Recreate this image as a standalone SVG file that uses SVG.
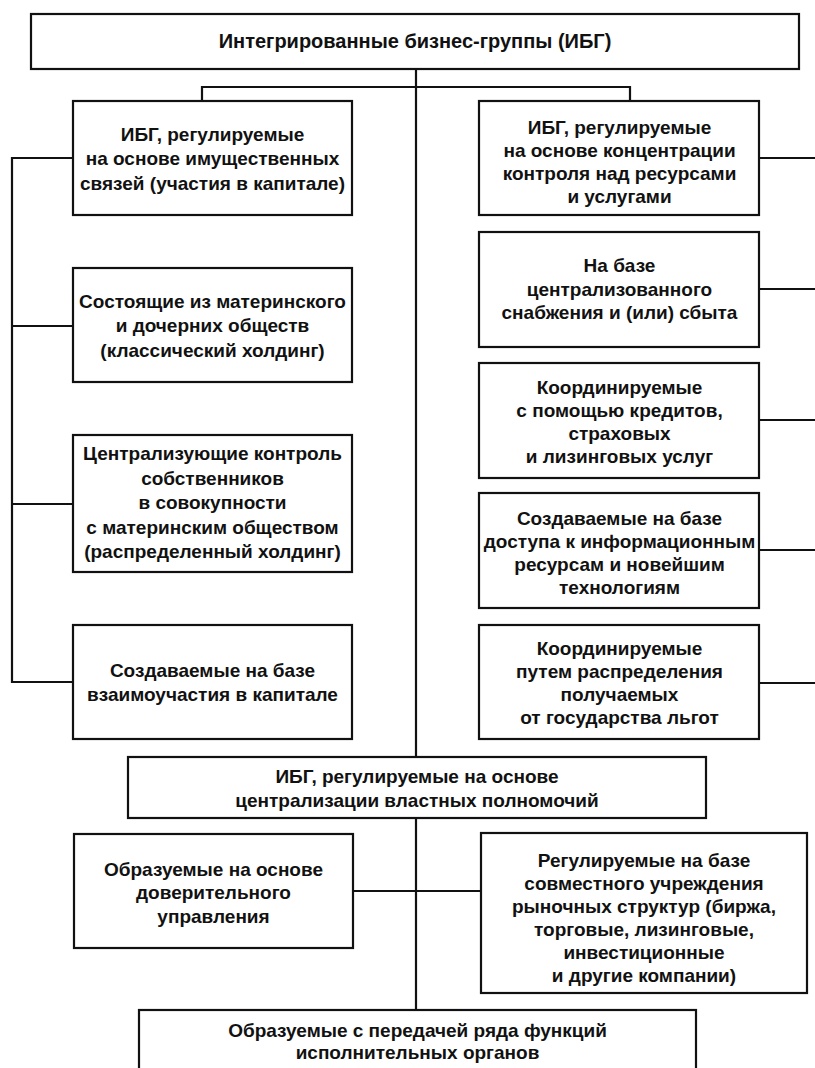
<svg xmlns="http://www.w3.org/2000/svg" width="815" height="1068" viewBox="0 0 815 1068">
<style>
.box{fill:#fff;stroke:#111;stroke-width:2.2}
.ln{fill:none;stroke:#111;stroke-width:2.2}
text{font-family:"Liberation Sans",Arial,sans-serif;font-weight:bold;font-size:19px;fill:#111;text-anchor:middle}
.title{font-size:20px}
.lg{font-size:19.6px}
</style>
<rect width="815" height="1068" fill="#fff"/>
<g id="connectors">
<path class="ln" d="M416 69V1010"/>
<path class="ln" d="M202 101V87H630V101"/>
<path class="ln" d="M73 158H12V682H73M12 326H73M12 504H73"/>
<path class="ln" d="M759 158H815M759 289H815M759 420H815M759 550H815M759 683H815"/>
<path class="ln" d="M353 891H481"/>
</g>
<g id="n-top">
<rect class="box" x="31" y="14" width="768" height="55"/>
<text class="title" x="415" y="48">Интегрированные бизнес-группы (ИБГ)</text>
</g>
<g id="n-left1" class="lg">
<rect class="box" x="73" y="101" width="279" height="114"/>
<text x="212.5" y="140.5">ИБГ, регулируемые</text>
<text x="212.5" y="165">на основе имущественных</text>
<text x="212.5" y="189.5">связей (участия в капитале)</text>
</g>
<g id="n-left2" class="lg">
<rect class="box" x="73" y="268" width="279" height="114"/>
<text x="212.5" y="307.5">Состоящие из материнского</text>
<text x="212.5" y="332">и дочерних обществ</text>
<text x="212.5" y="356.5">(классический холдинг)</text>
</g>
<g id="n-left3" class="lg">
<rect class="box" x="73" y="435" width="279" height="137"/>
<text x="212.5" y="460">Централизующие контроль</text>
<text x="212.5" y="484.5">собственников</text>
<text x="212.5" y="509">в совокупности</text>
<text x="212.5" y="533.5">с материнским обществом</text>
<text x="212.5" y="558">(распределенный холдинг)</text>
</g>
<g id="n-left4" class="lg">
<rect class="box" x="73" y="625" width="279" height="114"/>
<text x="212.5" y="676.5">Создаваемые на базе</text>
<text x="212.5" y="701">взаимоучастия в капитале</text>
</g>
<g id="n-right1">
<rect class="box" x="479" y="101" width="280" height="114"/>
<text x="619.5" y="134">ИБГ, регулируемые</text>
<text x="619.5" y="157">на основе концентрации</text>
<text x="619.5" y="180">контроля над ресурсами</text>
<text x="619.5" y="203">и услугами</text>
</g>
<g id="n-right2">
<rect class="box" x="479" y="232" width="280" height="115"/>
<text x="619.5" y="272">На базе</text>
<text x="619.5" y="295.5">централизованного</text>
<text x="619.5" y="319">снабжения и (или) сбыта</text>
</g>
<g id="n-right3">
<rect class="box" x="479" y="363" width="280" height="115"/>
<text x="619.5" y="394">Координируемые</text>
<text x="619.5" y="417">с помощью кредитов,</text>
<text x="619.5" y="440">страховых</text>
<text x="619.5" y="463">и лизинговых услуг</text>
</g>
<g id="n-right4">
<rect class="box" x="479" y="493" width="280" height="115"/>
<text x="619.5" y="525">Создаваемые на базе</text>
<text x="619.5" y="548">доступа к информационным</text>
<text x="619.5" y="571">ресурсам и новейшим</text>
<text x="619.5" y="594">технологиям</text>
</g>
<g id="n-right5">
<rect class="box" x="479" y="625" width="280" height="114"/>
<text x="619.5" y="655">Координируемые</text>
<text x="619.5" y="678">путем распределения</text>
<text x="619.5" y="701">получаемых</text>
<text x="619.5" y="724">от государства льгот</text>
</g>
<g id="n-mid">
<rect class="box" x="128" y="757" width="578" height="61"/>
<text x="417" y="783">ИБГ, регулируемые на основе</text>
<text x="417" y="806.5">централизации властных полномочий</text>
</g>
<g id="n-bl">
<rect class="box" x="74" y="834" width="279" height="114"/>
<text x="213.5" y="875.5">Образуемые на основе</text>
<text x="213.5" y="899">доверительного</text>
<text x="213.5" y="922.5">управления</text>
</g>
<g id="n-br" class="lg">
<rect class="box" x="481" y="833" width="326" height="160"/>
<text x="644" y="867">Регулируемые на базе</text>
<text x="644" y="890">совместного учреждения</text>
<text x="644" y="913">рыночных структур (биржа,</text>
<text x="644" y="936">торговые, лизинговые,</text>
<text x="644" y="959">инвестиционные</text>
<text x="644" y="982">и другие компании)</text>
</g>
<g id="n-bottom">
<rect class="box" x="139" y="1010" width="557" height="80"/>
<text x="417.5" y="1036.5">Образуемые с передачей ряда функций</text>
<text x="417.5" y="1059">исполнительных органов</text>
</g>
</svg>
